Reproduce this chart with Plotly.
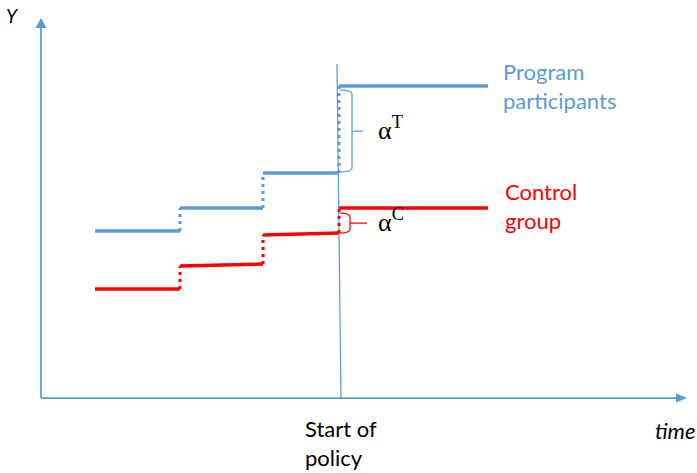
import plotly.graph_objects as go

# ---- data (time on x, outcome Y on y) ----
time_edges = [54, 139, 222, 298, 447]          # period boundaries; 298 = start of policy
policy_time = 298
blue_start = [167, 190, 225, 312]              # program participants, level at start of each period
blue_end = [167, 190, 225, 312]                # level at end of each period
red_start = [109, 132, 163, 190]               # control group
red_end = [109, 134, 165, 190]
series_names = ["Program<br>participants", "Control<br>group"]
axis_labels = ["Y", "time"]
policy_label = "Start of<br>policy"
effect_labels = ["α<sup>T</sup>", "α<sup>C</sup>"]

BLUE = "#5B9BD5"
RED = "#FF0000"
X_MAX, Y_MAX = 646, 380
W, H = 697, 473

fig = go.Figure()

def add_steps(starts, ends, color):
    n = len(starts)
    for i in range(n):
        fig.add_trace(go.Scatter(x=[time_edges[i], time_edges[i + 1]], y=[starts[i], ends[i]],
                                 mode="lines", line=dict(color=color, width=3.5),
                                 hoverinfo="skip", showlegend=False))
        if i > 0:
            fig.add_trace(go.Scatter(x=[time_edges[i], time_edges[i]], y=[ends[i - 1], starts[i]],
                                     mode="lines", line=dict(color=color, width=3, dash="3px,4px"),
                                     hoverinfo="skip", showlegend=False))

# axes
fig.add_trace(go.Scatter(x=[0, 0], y=[0, Y_MAX - 9], mode="lines",
                         line=dict(color=BLUE, width=1.75), hoverinfo="skip", showlegend=False))
fig.add_trace(go.Scatter(x=[0, X_MAX - 10], y=[0, 0], mode="lines",
                         line=dict(color=BLUE, width=1.75), hoverinfo="skip", showlegend=False))
fig.add_shape(type="path", xref="x", yref="y",
              path=f"M -5.5,{Y_MAX-10} L 5.5,{Y_MAX-10} L 0,{Y_MAX} Z",
              fillcolor=BLUE, line=dict(color=BLUE, width=0))
fig.add_shape(type="path", xref="x", yref="y",
              path=f"M {X_MAX-11},-4.5 L {X_MAX-11},4.5 L {X_MAX},0 Z",
              fillcolor=BLUE, line=dict(color=BLUE, width=0))

# policy line
fig.add_trace(go.Scatter(x=[policy_time + 2, policy_time - 2], y=[0, 334], mode="lines",
                         line=dict(color=BLUE, width=1.25), hoverinfo="skip", showlegend=False))

add_steps(blue_start, blue_end, BLUE)
add_steps(red_start, red_end, RED)

# braces showing the jumps at the policy start
def brace(y_top, y_bot, x_left, x_mid, x_tip, color):
    r = 4
    yc = (y_top + y_bot) / 2
    p = (f"M {x_left},{y_top} Q {x_mid},{y_top} {x_mid},{y_top - r} "
         f"L {x_mid},{y_bot + r} Q {x_mid},{y_bot} {x_left},{y_bot} "
         f"M {x_mid},{yc} L {x_tip},{yc}")
    fig.add_shape(type="path", xref="x", yref="y", path=p,
                  line=dict(color=color, width=1.25))
    return yc

yc_T = brace(blue_end[-1] - 4, blue_end[-2] + 1, policy_time + 1, policy_time + 13,
             policy_time + 24, BLUE)
yc_C = brace(red_end[-1] - 5, red_end[-2], policy_time + 1, policy_time + 11,
             policy_time + 28, RED)

for txt, yc in zip(effect_labels, [yc_T, yc_C]):
    fig.add_annotation(x=policy_time + 37, y=yc + 3, text=txt, showarrow=False,
                       xanchor="left", yanchor="middle",
                       font=dict(family="Liberation Serif", size=26, color="black"))

# series labels at the right end
label_font = "Lato"
fig.add_annotation(x=time_edges[-1] + 13, y=blue_end[-1], text=series_names[0], showarrow=False,
                   xanchor="left", yanchor="middle", align="left",
                   font=dict(family=label_font, size=22, color=BLUE))
fig.add_annotation(x=time_edges[-1] + 15, y=red_end[-1] + 2, text=series_names[1], showarrow=False,
                   xanchor="left", yanchor="middle", align="left",
                   font=dict(family=label_font, size=22, color=RED))

fig.add_annotation(x=policy_time + 2, y=-45, text=policy_label, showarrow=False,
                   xanchor="center", yanchor="middle", align="left",
                   font=dict(family=label_font, size=22, color="black"))
fig.add_annotation(x=-37, y=383, text=f"<i>{axis_labels[0]}</i>", showarrow=False,
                   xanchor="left", yanchor="middle",
                   font=dict(family=label_font, size=19, color="black"))
fig.add_annotation(x=656, y=-32, text=f"<i>{axis_labels[1]}</i>", showarrow=False,
                   xanchor="right", yanchor="middle",
                   font=dict(family=label_font, size=22, color="black"))

fig.update_layout(
    width=W, height=H,
    margin=dict(l=0, r=0, t=0, b=0),
    paper_bgcolor="white", plot_bgcolor="white",
    xaxis=dict(range=[-41, -41 + W], visible=False, fixedrange=True),
    yaxis=dict(range=[398 - H, 398], visible=False, fixedrange=True),
    showlegend=False,
)

fig.write_html("out.html", config={"displayModeBar": False},
               post_script="document.body.style.margin='0';document.body.style.overflow='hidden';")
